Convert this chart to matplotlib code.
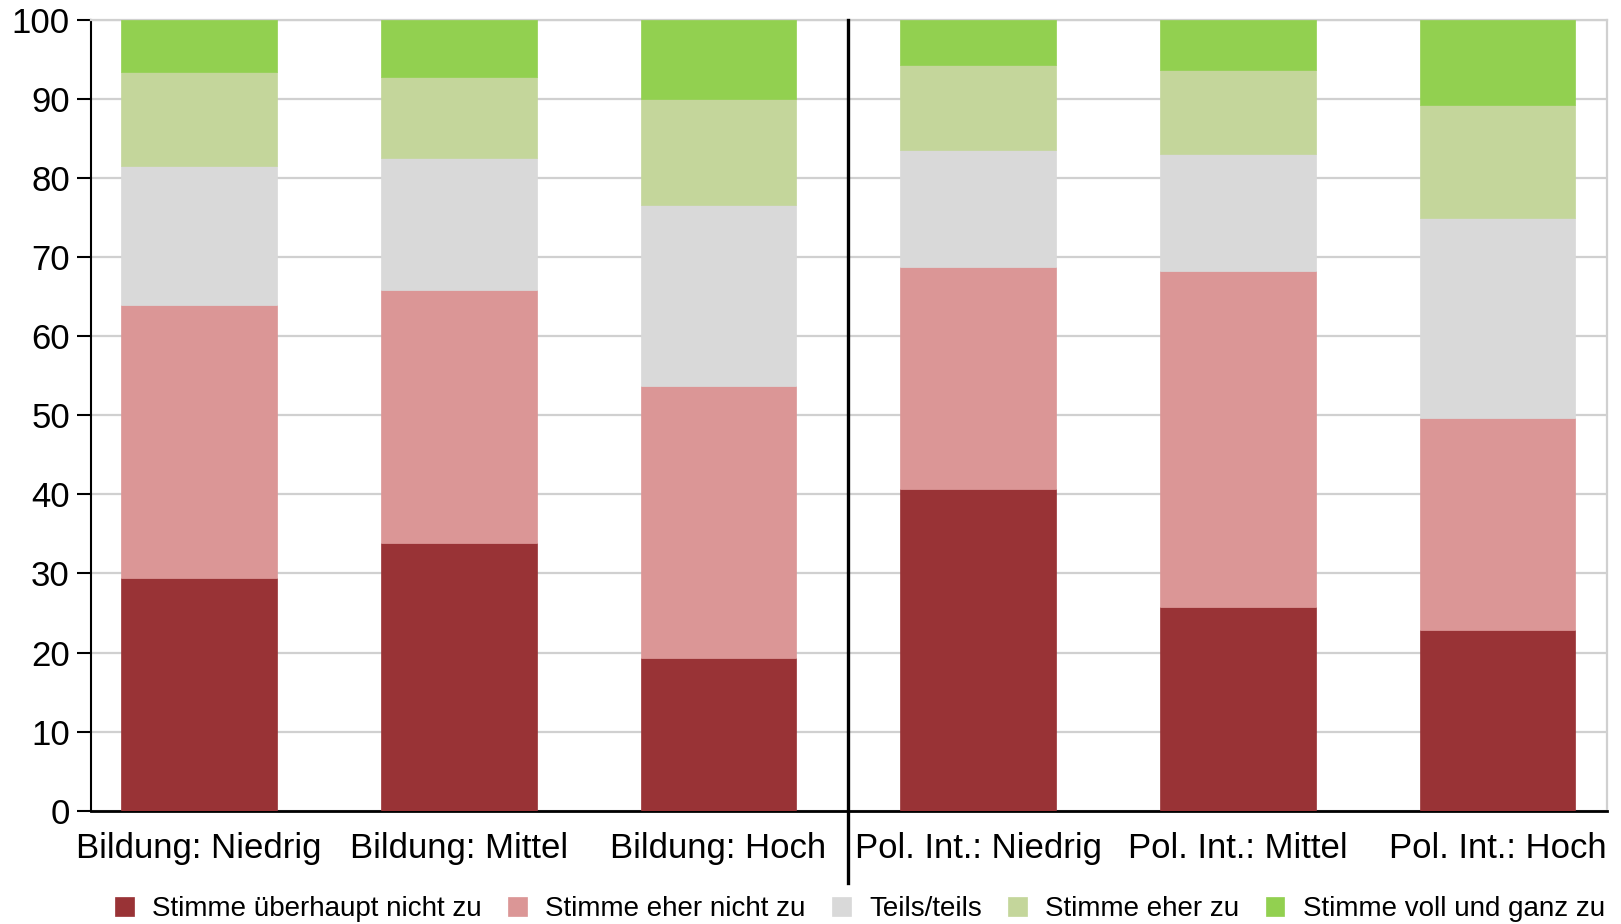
import matplotlib
matplotlib.use("Agg")
import matplotlib.pyplot as plt
import numpy as np

plt.rcParams['font.family'] = ['Liberation Sans', 'DejaVu Sans']

categories = ["Bildung: Niedrig", "Bildung: Mittel", "Bildung: Hoch",
              "Pol. Int.: Niedrig", "Pol. Int.: Mittel", "Pol. Int.: Hoch"]
series_names = ["Stimme überhaupt nicht zu", "Stimme eher nicht zu", "Teils/teils",
                "Stimme eher zu", "Stimme voll und ganz zu"]
ueberhaupt_nicht = [29.4, 33.9, 19.3, 40.7, 25.7, 22.8]
eher_nicht = [34.5, 31.9, 34.4, 28.1, 42.6, 26.9]
teils = [17.6, 16.7, 22.9, 14.7, 14.8, 25.2]
eher_zu = [11.9, 10.3, 13.4, 10.8, 10.55, 14.3]
voll = [6.6, 7.2, 10.0, 5.7, 6.35, 10.8]
yticks = [0, 10, 20, 30, 40, 50, 60, 70, 80, 90, 100]

colors = ["#993336", "#db9696", "#d9d9d9", "#c4d69b", "#92d050"]
series = [ueberhaupt_nicht, eher_nicht, teils, eher_zu, voll]

fig = plt.figure(figsize=(16.21, 9.24), dpi=100)
ax = fig.add_axes([90.7 / 1621, 1 - 810.7 / 924, (1607 - 90.7) / 1621, (810.7 - 20) / 924])

x = np.arange(len(categories))
bottom = np.zeros(len(categories))
for vals, name, c in zip(series, series_names, colors):
    ax.bar(x, vals, width=0.6, bottom=bottom, color=c, label=name,
           edgecolor=c, linewidth=0.5, zorder=3)
    bottom += np.array(vals)

ax.set_xlim(-0.418, 5.422)
ax.set_ylim(0, 100)
ax.set_yticks(yticks)
ax.set_yticklabels([str(t) for t in yticks])
ax.set_xticks(x)
ax.set_xticklabels(categories)
ax.tick_params(axis='y', labelsize=25, length=10, width=1.5, pad=5, color='black')
ax.tick_params(axis='x', labelsize=25, length=0, pad=15)
ax.yaxis.grid(True, color='#d0d0d0', linewidth=1.6, zorder=0)
ax.set_axisbelow(True)

ax.spines['left'].set_color('black')
ax.spines['left'].set_linewidth(1.5)
ax.spines['bottom'].set_color('black')
ax.spines['bottom'].set_linewidth(2)
ax.spines['top'].set_color('#d0d0d0')
ax.spines['top'].set_linewidth(1.6)
ax.spines['right'].set_color('#d0d0d0')
ax.spines['right'].set_linewidth(1.6)

trans = matplotlib.transforms.blended_transform_factory(ax.transData, ax.transAxes)
ax.plot([2.5, 2.5], [1.0, -0.091], color='black', linewidth=2.4,
        transform=trans, clip_on=False, zorder=5)

fig.legend(loc='center', bbox_to_anchor=(860 / 1621, 1 - 909 / 924), ncol=5, frameon=False,
           fontsize=20, handlelength=0.68, handleheight=0.68, handletextpad=0.65,
           columnspacing=0.95, borderaxespad=0, borderpad=0)

fig.savefig("out.png", dpi=100)
